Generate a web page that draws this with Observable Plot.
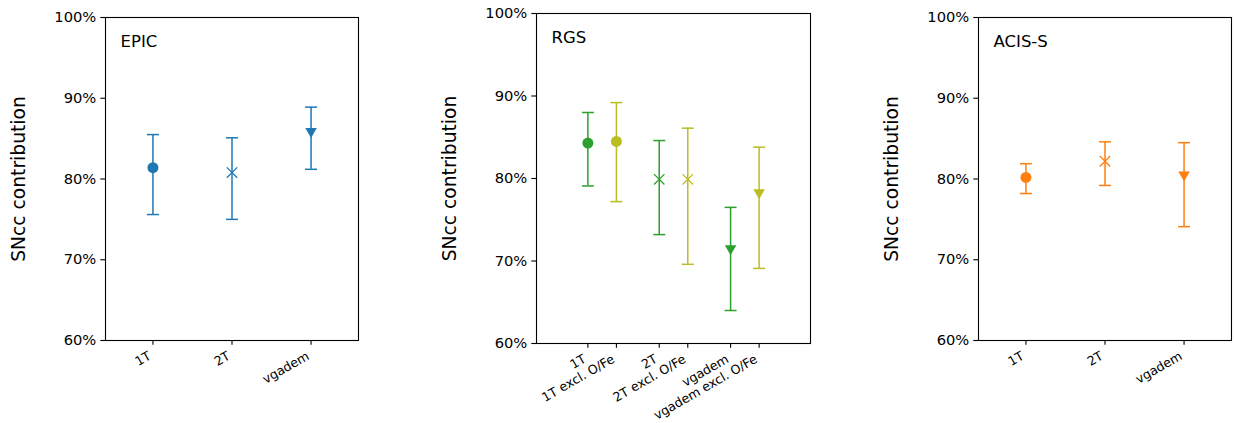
<!DOCTYPE html>
<html><head><meta charset="utf-8">
<script src="https://cdn.jsdelivr.net/npm/d3@7"></script>
<script src="https://cdn.jsdelivr.net/npm/@observablehq/plot@0.6"></script>
<style>
body{margin:0;background:#fff;}
#fig{position:relative;width:1234px;height:423px;overflow:hidden;font-family:"DejaVu Sans",sans-serif;background:#fff;}
#fig svg{position:absolute;top:0;}
</style></head><body><div id="fig"></div>
<script>
// ---- data ----
const yTicks = [60, 70, 80, 90, 100];
const yLabel = "SNcc contribution";

const epicTitle = "EPIC";
const epicModels = ["1T", "2T", "vgadem"];
const epicValues = [81.4, 80.8, 85.7];
const epicLow = [75.6, 75.0, 81.2];
const epicHigh = [85.5, 85.1, 88.9];

const rgsTitle = "RGS";
const rgsModels = ["1T", "1T excl. O/Fe", "2T", "2T excl. O/Fe", "vgadem", "vgadem excl. O/Fe"];
const rgsFamily = [0, 0, 1, 1, 2, 2];
const rgsExcl = [false, true, false, true, false, true];
const rgsValues = [84.3, 84.5, 79.9, 79.9, 71.3, 78.1];
const rgsLow = [79.1, 77.2, 73.2, 69.6, 64.0, 69.1];
const rgsHigh = [88.0, 89.2, 84.6, 86.1, 76.5, 83.8];

const acisTitle = "ACIS-S";
const acisModels = ["1T", "2T", "vgadem"];
const acisValues = [80.2, 82.2, 80.3];
const acisLow = [78.2, 79.2, 74.1];
const acisHigh = [81.9, 84.6, 84.5];

// ---- styles ----
const BLUE = "#1f77b4", GREEN = "#2ca02c", OLIVE = "#bcbd22", ORANGE = "#ff7f0e";
const EXCL_OFFSET = 0.4;

const cap = {draw(ctx, size) {const r = Math.sqrt(size / Math.PI); ctx.moveTo(-r, 0); ctx.lineTo(r, 0);}};
const triDown = {draw(ctx, size) {const r = Math.sqrt(size / Math.PI); const w = r * 1.15, h = r; ctx.moveTo(-w, -h); ctx.lineTo(w, -h); ctx.lineTo(0, h); ctx.closePath();}};

function build(models, values, low, high, xpos, family, colorOf) {
  return models.map((m, i) => ({model: m, x: xpos[i], v: values[i], lo: low[i], hi: high[i], fam: family[i], color: colorOf(i)}));
}

function panel(data, title, xdomain, width, margins) {
  const xs = data.map(d => d.x);
  return Plot.plot({
    width, height: 423,
    marginLeft: margins[0], marginRight: margins[1], marginTop: margins[2], marginBottom: margins[3],
    style: {fontFamily: "DejaVu Sans, sans-serif", fontSize: "14.7px", color: "black", background: "transparent", overflow: "visible"},
    x: {type: "linear", domain: xdomain},
    y: {type: "linear", domain: [60, 100]},
    marks: [
      Plot.axisY({ticks: yTicks, tickFormat: d => d + "%", tickSize: 4.7, tickPadding: 4.5, label: null, strokeWidth: 1.1}),
      Plot.axisX({ticks: xs, tickFormat: () => "", tickSize: 4.7, label: null, strokeWidth: 1.1}),
      Plot.ruleX(data, {x: "x", y1: "lo", y2: "hi", stroke: d => d.color, strokeWidth: 1.5}),
      Plot.dot(data, {x: "x", y: "hi", symbol: cap, r: 6, stroke: d => d.color, strokeWidth: 1.5}),
      Plot.dot(data, {x: "x", y: "lo", symbol: cap, r: 6, stroke: d => d.color, strokeWidth: 1.5}),
      Plot.dot(data.filter(d => d.fam === 0), {x: "x", y: "v", symbol: "circle", r: 5.5, fill: d => d.color, stroke: null}),
      Plot.dot(data.filter(d => d.fam === 1), {x: "x", y: "v", symbol: "times", r: 4.8, stroke: d => d.color, strokeWidth: 1.3}),
      Plot.dot(data.filter(d => d.fam === 2), {x: "x", y: "v", symbol: triDown, r: 5, fill: d => d.color, stroke: null}),
      Plot.frame({stroke: "black", strokeWidth: 1.1}),
      Plot.text([title], {frameAnchor: "top-left", dx: 15, dy: 18, lineAnchor: "top", textAnchor: "start", fontSize: 16.5, fill: "black"}),
      Plot.text([yLabel], {frameAnchor: "left", rotate: -90, dx: -86, textAnchor: "middle", lineAnchor: "middle", fontSize: 18.7, fill: "black"}),
      Plot.text(data, {x: "x", text: "model", frameAnchor: "bottom", rotate: -30, textAnchor: "end", lineAnchor: "middle", dx: -3, dy: 14.5, fontSize: 12.6, fill: "black"})
    ]
  });
}

const fig = document.getElementById("fig");
const epicData = build(epicModels, epicValues, epicLow, epicHigh, epicModels.map((_, i) => i), epicModels.map((_, i) => i), () => BLUE);
const rgsData = build(rgsModels, rgsValues, rgsLow, rgsHigh, rgsFamily.map((f, i) => f + (rgsExcl[i] ? EXCL_OFFSET : 0)), rgsFamily, i => rgsExcl[i] ? OLIVE : GREEN);
const acisData = build(acisModels, acisValues, acisLow, acisHigh, acisModels.map((_, i) => i), acisModels.map((_, i) => i), () => ORANGE);

const p1 = panel(epicData, epicTitle, [-0.6, 2.6], 370, [105, 12, 17, 83]);
p1.style.left = "0px";
const p2 = panel(rgsData, rgsTitle, [-0.72, 3.12], 400, [106, 20, 13, 80]);
p2.style.left = "430px";
const p3 = panel(acisData, acisTitle, [-0.6, 2.6], 364, [108, 3, 17, 83]);
p3.style.left = "870px";
fig.append(p1, p2, p3);
</script>
</body></html>
